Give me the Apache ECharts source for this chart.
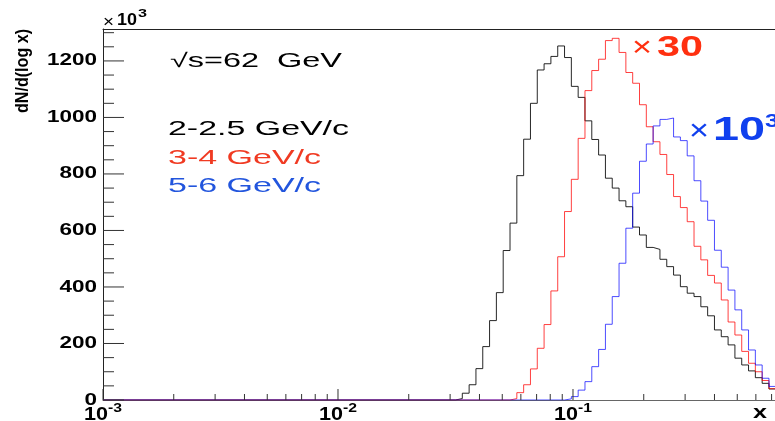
<!DOCTYPE html>
<html><head><meta charset="utf-8">
<script src="https://cdn.jsdelivr.net/npm/echarts@6/dist/echarts.min.js"></script>
<style>html,body{margin:0;padding:0;background:#fff}#c{width:775px;height:421px}</style>
</head><body><div id="c"></div>
<script>
// ---------------- data ----------------
const binStartLog = -1.5;   // log10(x) of the first bin edge
const binWidthLog = 0.029;  // bin width in log10(x)
// 2-2.5 GeV/c (black), starting at bin 0
const black_2_25_firstBin = 0;
const black_2_25 = [5,24,54,111,189,281,380,529,626,794,923,1050,1168,1190,1216,1253,1212,1110,1071,988,922,867,785,750,705,684,612,584,540,533,498,472,442,401,378,366,330,298,248,224,195,148,124,103,79,59,39];
// 3-4 GeV/c (red, x30)
const red_3_4_firstBin = 8;
const red_3_4 = [5,26,54,110,183,267,386,507,667,781,926,1095,1166,1206,1272,1280,1230,1159,1121,1045,967,914,869,798,720,681,631,544,496,441,414,354,276,230,172,130,100,69,40];
// 5-6 GeV/c (blue, x10^3)
const blue_5_6_firstBin = 16;
const blue_5_6 = [4,12,35,65,118,179,268,366,484,608,732,845,906,970,993,998,931,918,864,776,704,636,530,470,389,319,248,177,124,77,48];

const yMajorTicks = [0,200,400,600,800,1000,1200];
const yTickLabels = ['0','200','400','600','800','1000','1200'];
const yMinorTicks = [50,100,150,250,300,350,450,500,550,650,700,750,850,900,950,1050,1100,1150,1250,1300];
const xMajorTicks = [0.001,0.01,0.1];
const xTickExponents = ['-3','-2','-1'];
const xMinorTicks = [0.002,0.003,0.004,0.005,0.006,0.007,0.008,0.009,0.02,0.03,0.04,0.05,0.06,0.07,0.08,0.09,0.2,0.3,0.4,0.5,0.6,0.7];

// ---------------- setup ----------------
const X_MIN = -3, X_MAX = -0.1404, Y_MIN = 0, Y_MAX = 1313;
const FAM = '"Liberation Sans", Arial, sans-serif';
const _ctx = document.createElement('canvas').getContext('2d');
function measure(text, font){ _ctx.font = font; return _ctx.measureText(text).width; }
function fnt(size, weight){ return weight + ' ' + size + 'px ' + FAM; }
function T(text, x, y, size, weight, color, width, align, extra){
  const font = fnt(size, weight);
  const sx = width ? width / measure(text, font) : 1;
  return Object.assign({type:'text', x:x, y:y, scaleX:sx, silent:true,
    style:{text:text, font:font, fill:color, textAlign:align||'left', align:align||'left',
      textVerticalAlign:'middle', verticalAlign:'middle'}}, extra||{});
}
function stepData(vals, firstBin){
  const pts = [[X_MIN, 0]];
  vals.forEach((v,i)=>pts.push([binStartLog + (firstBin+i)*binWidthLog, v]));
  pts.push([binStartLog + (firstBin+vals.length)*binWidthLog, 0]);
  return pts;
}

const Y_LAB_FONT = fnt(16.5,'bold');
const X_BASE_FONT = fnt(18,'bold');
const X_EXP_FONT = fnt(12,'bold');
const yLabScale = 50 / measure('1200', Y_LAB_FONT);
const xBaseScale = 24 / measure('10', X_BASE_FONT);
const xExpScale = 14 / measure('-3', X_EXP_FONT);

function tickLine(x1,y1,x2,y2){
  return {type:'line', shape:{x1:x1,y1:y1,x2:x2,y2:y2}, style:{stroke:'#333', lineWidth:1}};
}

const chart = echarts.init(document.getElementById('c'), null, {renderer:'canvas'});
chart.setOption({
  animation:false,
  backgroundColor:'#fff',
  grid:{left:103, right:0, top:29, bottom:21, containLabel:false},
  xAxis:[
    {type:'value', min:X_MIN, max:X_MAX, axisLine:{show:true, lineStyle:{color:'#666', width:1}},
     axisTick:{show:false}, axisLabel:{show:false}, splitLine:{show:false}},
    {type:'value', position:'top', min:X_MIN, max:X_MAX, axisLine:{show:true, onZero:false, lineStyle:{color:'#222', width:1}},
     axisTick:{show:false}, axisLabel:{show:false}, splitLine:{show:false}}
  ],
  yAxis:{type:'value', min:Y_MIN, max:Y_MAX, axisLine:{show:true, lineStyle:{color:'#222', width:1}},
    axisTick:{show:false}, axisLabel:{show:false}, splitLine:{show:false}},
  series:[
    {name:'2-2.5 GeV/c', type:'line', step:'end', symbol:'none', data:stepData(black_2_25, black_2_25_firstBin),
     lineStyle:{color:'#000', width:1, opacity:0.85}, z:3},
    {name:'3-4 GeV/c', type:'line', step:'end', symbol:'none', data:stepData(red_3_4, red_3_4_firstBin),
     lineStyle:{color:'#ff0000', width:1, opacity:0.75}, z:4},
    {name:'5-6 GeV/c', type:'line', step:'end', symbol:'none', data:stepData(blue_5_6, blue_5_6_firstBin),
     lineStyle:{color:'#0000ff', width:1, opacity:0.7}, z:5},
    {type:'custom', silent:true, z:6, data:yMajorTicks.map(v=>[X_MIN, v]),
     renderItem:function(params, api){
       const p = api.coord([X_MIN, api.value(1)]);
       return {type:'group', children:[
         tickLine(p[0], p[1], p[0]+21, p[1]),
         {type:'text', x:97, y:p[1], scaleX:yLabScale, style:{text:yTickLabels[params.dataIndex], font:Y_LAB_FONT, fill:'#000',
           textAlign:'right', align:'right', textVerticalAlign:'middle', verticalAlign:'middle'}}
       ]};
     }},
    {type:'custom', silent:true, z:6, data:yMinorTicks.map(v=>[X_MIN, v]),
     renderItem:function(params, api){
       const p = api.coord([X_MIN, api.value(1)]);
       return tickLine(p[0], p[1], p[0]+11, p[1]);
     }},
    {type:'custom', silent:true, z:6, data:xMajorTicks.map(v=>[Math.log10(v), 0]),
     renderItem:function(params, api){
       const p = api.coord([api.value(0), 0]);
       return {type:'group', children:[
         tickLine(p[0], p[1], p[0], p[1]-11),
         {type:'text', x:p[0]+5, y:p[1]+15.5, scaleX:xBaseScale, style:{text:'10', font:X_BASE_FONT, fill:'#000',
           textAlign:'right', align:'right', textVerticalAlign:'middle', verticalAlign:'middle'}},
         {type:'text', x:p[0]+5, y:p[1]+9, scaleX:xExpScale, style:{text:xTickExponents[params.dataIndex], font:X_EXP_FONT, fill:'#000',
           textAlign:'left', align:'left', textVerticalAlign:'middle', verticalAlign:'middle'}}
       ]};
     }},
    {type:'custom', silent:true, z:6, data:xMinorTicks.map(v=>[Math.log10(v), 0]),
     renderItem:function(params, api){
       const p = api.coord([api.value(0), 0]);
       return tickLine(p[0], p[1], p[0], p[1]-6);
     }}
  ],
  graphic:[
    T('\u00d7', 103, 22.5, 17, 'normal', '#000', 11),
    T('10', 117, 20.5, 17, 'bold', '#000', 20),
    T('3', 138, 14, 11.5, 'bold', '#000', 9),
    {type:'text', x:22.5, y:71, rotation:Math.PI/2, silent:true,
     scaleX: 84 / measure('dN/d(log x)', fnt(16,'bold')), scaleY:1.2,
     style:{text:'dN/d(log x)', font:fnt(16,'bold'), fill:'#000', textAlign:'center', align:'center', textVerticalAlign:'middle', verticalAlign:'middle'}},
    T('\u221as=62  GeV', 170, 62, 19.5, 'normal', '#000', 172),
    T('2-2.5 GeV/c', 168, 129.5, 19.5, 'normal', '#000', 181),
    T('3-4 GeV/c', 168, 158.5, 19.5, 'normal', '#f03a22', 153),
    T('5-6 GeV/c', 168, 187, 19.5, 'normal', '#2255dd', 153),
    T('\u00d7', 632, 48, 28, 'normal', '#ff3010', 20),
    T('30', 657, 48, 29, 'bold', '#ff3010', 46),
    T('\u00d7', 689, 132, 30, 'normal', '#1040ee', 20),
    T('10', 713, 131, 33, 'bold', '#1040ee', 52),
    T('3', 765, 122, 18, 'bold', '#1040ee', 14),
    T('x', 760, 413.5, 18, 'bold', '#000', 14, 'center')
  ]
});
</script></body></html>
